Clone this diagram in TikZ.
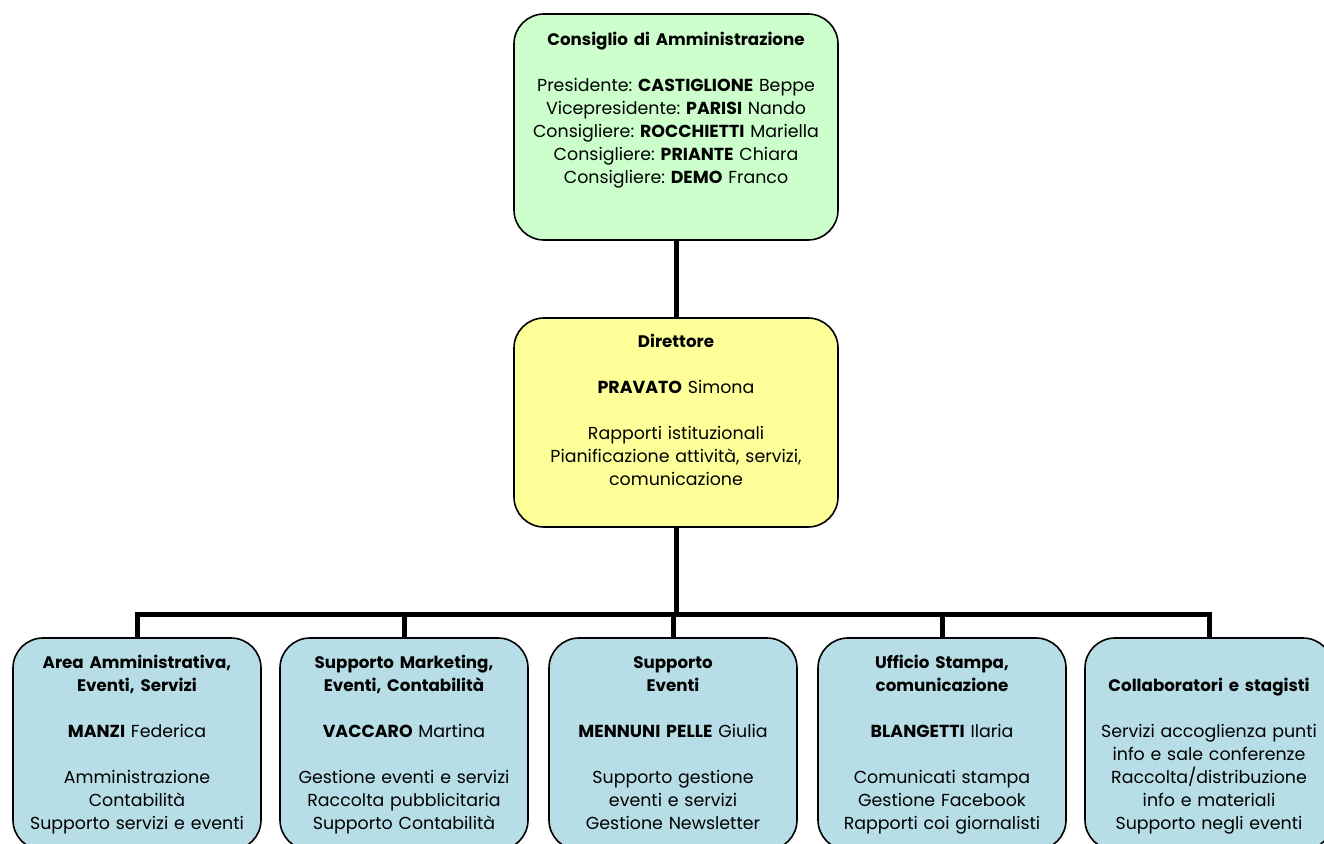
\documentclass[tikz,border=0pt]{standalone}
\usepackage{fontspec}
\setmainfont{Poppins}
\frenchspacing
\definecolor{cdagreen}{RGB}{204,255,204}
\definecolor{diryellow}{RGB}{255,255,153}
\definecolor{areablue}{RGB}{183,222,230}
\newcommand{\boxtitle}[1]{{\fontsize{16.7}{23}\selectfont\textbf{#1}}}
\tikzset{
  orgbox/.style={draw, line width=1.6pt, rounded corners=30pt, anchor=north,
    align=center, inner xsep=0pt, inner ysep=0pt, outer sep=0pt,
    font=\fontsize{17.4}{23}\selectfont},
  topbox/.style={orgbox, fill=cdagreen, text width=324pt, text height=32pt, text depth=194pt},
  dirbox/.style={orgbox, fill=diryellow, text width=324pt, text height=29pt, text depth=180pt},
  areabox/.style={orgbox, fill=areablue, text width=248pt, text height=30pt, text depth=182pt},
  link/.style={line width=5pt}
}
\begin{document}
\begin{tikzpicture}[x=1pt,y=-1pt]
\useasboundingbox (0,0) rectangle (1324,843);
% vertici
\node[topbox] (cda) at (676,14) {\boxtitle{Consiglio di Amministrazione}\\[23pt]
  Presidente: \textbf{CASTIGLIONE} Beppe\\ Vicepresidente: \textbf{PARISI} Nando\\
  Consigliere: \textbf{ROCCHIETTI} Mariella\\ Consigliere: \textbf{PRIANTE} Chiara\\
  Consigliere: \textbf{DEMO} Franco};
\node[dirbox] (dir) at (676,318) {\boxtitle{Direttore}\\[23pt] \textbf{PRAVATO} Simona\\[23pt]
  Rapporti istituzionali\\ Pianificazione attività, servizi,\\ comunicazione};
\coordinate (bus) at (676,614);
% aree
\node[areabox] (amm) at (137,638) {\boxtitle{Area Amministrativa,}\\ \boxtitle{Eventi, Servizi}\\[23pt]
  \textbf{MANZI} Federica\\[23pt] Amministrazione\\ Contabilità\\ Supporto servizi e eventi};
\node[areabox] (mkt) at (404,638) {\boxtitle{Supporto Marketing,}\\ \boxtitle{Eventi, Contabilità}\\[23pt]
  \textbf{VACCARO} Martina\\[23pt] Gestione eventi e servizi\\ Raccolta pubblicitaria\\ Supporto Contabilità};
\node[areabox] (evt) at (673,638) {\boxtitle{Supporto}\\ \boxtitle{Eventi}\\[23pt]
  \textbf{MENNUNI PELLE} Giulia\\[23pt] Supporto gestione\\ eventi e servizi\\ Gestione Newsletter};
\node[areabox] (stp) at (942,638) {\boxtitle{Ufficio Stampa,}\\ \boxtitle{comunicazione}\\[23pt]
  \textbf{BLANGETTI} Ilaria\\[23pt] Comunicati stampa\\ Gestione Facebook\\ Rapporti coi giornalisti};
\node[areabox, text height=53pt, text depth=159pt] (col) at (1209,638) {\boxtitle{Collaboratori e stagisti}\\[23pt]
  Servizi accoglienza punti\\ info e sale conferenze\\ Raccolta/distribuzione\\ info e materiali\\ Supporto negli eventi};
% collegamenti
\draw[link] (cda.south) -- (dir.north);
\draw[link] (dir.south) -- (bus);
\foreach \a in {amm,mkt,evt,stp,col}
  \draw[link] (\a.north) |- (bus);
\end{tikzpicture}
\end{document}
